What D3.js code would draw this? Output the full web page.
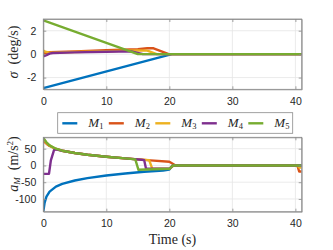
<!DOCTYPE html>
<html>
<head>
<meta charset="utf-8">
<script src="https://cdn.jsdelivr.net/npm/d3@7"></script>
<style>
  body { margin: 0; background: #fff; }
  svg { display: block; }
</style>
</head>
<body>
<div id="chart"></div>
<script>
// ---- data ----
var seriesNames = ["1", "2", "3", "4", "5"];
var colors = ["#0072BD", "#D95319", "#EDB120", "#7E2F8E", "#77AC30"];
var xTicks = [0, 10, 20, 30, 40];
var sigmaTicks = [-2, 0, 2];
var accTicks = [-100, -50, 0, 50];

// sigma (deg/s), top panel
var sigT1 = [0, 20.4, 41];
var sigV1 = [-2.9, 0, 0];
var sigT2 = [0, 0.5, 1, 5, 10, 15, 16.5, 17.5, 19.9, 41];
var sigV2 = [0.06, 0.12, 0.16, 0.24, 0.33, 0.42, 0.5, 0.5, 0, 0];
var sigT3 = [0, 0.3, 1, 5, 10, 15, 16.5, 18, 41];
var sigV3 = [0.3, 0.22, 0.12, 0.18, 0.25, 0.32, 0.3, 0, 0];
var sigT4 = [0, 0.5, 1, 1.5, 5, 10, 14, 15.8, 41];
var sigV4 = [-0.18, -0.08, 0.05, 0.1, 0.15, 0.2, 0.24, 0, 0];
var sigT5 = [0, 15, 41];
var sigV5 = [2.88, 0, 0];

// a_M (m/s^2), bottom panel
var accT1 = [0, 0.2, 0.5, 1, 2, 3, 5, 7, 10, 13, 16, 19, 20, 20.5, 41];
var accV1 = [-138, -112, -93, -78, -63, -55, -45, -38, -30, -24, -19, -15, -12, 0, 0];
var accT2 = [0, 0.5, 1, 2, 3, 5, 7, 10, 13, 15, 17, 20, 21, 40.3, 40.6, 41];
var accV2 = [73, 65, 58, 49, 44, 37, 32, 26, 21, 18, 15, 11, 0, 0, -18, -18];
var accT3 = [0, 0.5, 1, 2, 3, 5, 7, 10, 13, 15, 16.8, 17.3, 20, 20.7, 40.3, 40.6, 41];
var accV3 = [79, 67, 59, 49, 44, 37, 32, 26, 21, 18, 16, -10, -10, 0, 0, -6, -6];
var accT4 = [0, 0.9, 1.2, 1.7, 2, 3, 5, 7, 10, 13, 15.6, 16, 16.3, 20, 20.6, 41];
var accV4 = [-25, -25, 15, 46, 48, 44, 37, 32, 26, 21, 17, 16, -10, -10, 0, 0];
var accT5 = [0, 0.5, 1, 2, 3, 5, 7, 10, 13, 14.6, 15.1, 20, 20.6, 41];
var accV5 = [82, 69, 60, 50, 44, 37, 32, 26, 21, 18, -13, -10, 0, 0];

var sigT = [sigT1, sigT2, sigT3, sigT4, sigT5];
var sigV = [sigV1, sigV2, sigV3, sigV4, sigV5];
var accT = [accT1, accT2, accT3, accT4, accT5];
var accV = [accV1, accV2, accV3, accV4, accV5];

// ---- layout ----
var W = 333, H = 250;
var left = 43.3, right = 301.7;
var topPanel = {y0: 19, y1: 89.3};
var botPanel = {y0: 137.3, y1: 211.7};

var svg = d3.select("#chart").append("svg")
  .attr("width", W)
  .attr("height", H);

var x = d3.scaleLinear().domain([0, 41]).range([left, right]);
var ySig = d3.scaleLinear().domain([-3, 3]).range([topPanel.y1, topPanel.y0]);
var yAcc = d3.scaleLinear().domain([-138, 84]).range([botPanel.y1, botPanel.y0]);

var tickFont = "'Liberation Sans', Arial, sans-serif";
var serif = "'Liberation Serif', 'DejaVu Serif', serif";
var boxColor = "#8a8a8a";

function drawPanel(id, y, yTicks, ts, vs, p) {
  var g = svg.append("g");

  g.append("clipPath").attr("id", id)
    .append("rect")
    .attr("x", left).attr("y", p.y0)
    .attr("width", right - left).attr("height", p.y1 - p.y0);

  // grid
  g.append("g").selectAll("line").data(xTicks).enter().append("line")
    .attr("x1", function(d) { return x(d); })
    .attr("x2", function(d) { return x(d); })
    .attr("y1", p.y0).attr("y2", p.y1)
    .attr("stroke", "#e6e6e6").attr("stroke-width", 0.8);
  g.append("g").selectAll("line").data(yTicks).enter().append("line")
    .attr("x1", left).attr("x2", right)
    .attr("y1", function(d) { return y(d); })
    .attr("y2", function(d) { return y(d); })
    .attr("stroke", "#e6e6e6").attr("stroke-width", 0.8);

  // lines
  var line = d3.line()
    .x(function(d) { return x(d[0]); })
    .y(function(d) { return y(d[1]); });
  var lg = g.append("g").attr("clip-path", "url(#" + id + ")");
  for (var i = 0; i < ts.length; i++) {
    var pts = ts[i].map(function(t, k) { return [t, vs[i][k]]; });
    lg.append("path")
      .datum(pts)
      .attr("d", line)
      .attr("fill", "none")
      .attr("stroke", colors[i])
      .attr("stroke-width", 2.4)
      .attr("stroke-linejoin", "round");
  }

  // axes (box with inward ticks)
  g.append("g")
    .attr("transform", "translate(0," + p.y1 + ")")
    .call(d3.axisBottom(x).tickValues(xTicks).tickSize(-3).tickPadding(8).tickSizeOuter(0));
  g.append("g")
    .attr("transform", "translate(0," + p.y0 + ")")
    .call(d3.axisTop(x).tickValues(xTicks).tickSize(-3).tickFormat("").tickSizeOuter(0));
  g.append("g")
    .attr("transform", "translate(" + left + ",0)")
    .call(d3.axisLeft(y).tickValues(yTicks).tickSize(-3).tickPadding(7).tickSizeOuter(0)
      .tickFormat(function(d) { return String(d); }));
  g.append("g")
    .attr("transform", "translate(" + right + ",0)")
    .call(d3.axisRight(y).tickValues(yTicks).tickSize(-3).tickFormat("").tickSizeOuter(0));

  g.selectAll(".domain").attr("stroke", boxColor).attr("stroke-width", 0.8);
  g.selectAll(".tick line").attr("stroke", boxColor).attr("stroke-width", 0.8);
  g.selectAll(".tick text")
    .style("font-family", tickFont)
    .style("font-size", "10.5px")
    .attr("fill", "#262626");

  g.append("rect")
    .attr("x", left).attr("y", p.y0)
    .attr("width", right - left).attr("height", p.y1 - p.y0)
    .attr("fill", "none").attr("stroke", boxColor).attr("stroke-width", 0.8);
  return g;
}

drawPanel("clipTop", ySig, sigmaTicks, sigT, sigV, topPanel);
drawPanel("clipBot", yAcc, accTicks, accT, accV, botPanel);

// y labels
var yl1 = svg.append("text")
  .attr("transform", "translate(18,52) rotate(-90)")
  .attr("text-anchor", "middle")
  .style("font-family", serif)
  .style("font-size", "14px")
  .attr("fill", "#262626");
yl1.append("tspan").style("font-style", "italic").text("σ");
yl1.append("tspan").text("\u2002(deg/s)");

var yl2 = svg.append("text")
  .attr("transform", "translate(18,164) rotate(-90)")
  .attr("text-anchor", "middle")
  .style("font-family", serif)
  .style("font-size", "14px")
  .attr("fill", "#262626");
yl2.append("tspan").style("font-style", "italic").text("a");
yl2.append("tspan").style("font-style", "italic").style("font-size", "9px").attr("dy", 2).text("M");
yl2.append("tspan").attr("dy", -2).text("\u2002(m/s");
yl2.append("tspan").style("font-size", "9px").attr("dy", -5).text("2");
yl2.append("tspan").attr("dy", 5).text(")");

// x label
svg.append("text")
  .attr("x", (left + right) / 2)
  .attr("y", 244)
  .attr("text-anchor", "middle")
  .style("font-family", serif)
  .style("font-size", "14px")
  .attr("fill", "#262626")
  .text("Time (s)");

// legend
var legend = svg.append("g");
legend.append("rect")
  .attr("x", 57.7).attr("y", 112.7)
  .attr("width", 235).attr("height", 20.6)
  .attr("fill", "#fff").attr("stroke", boxColor).attr("stroke-width", 0.8);
var lx = d3.scaleLinear().domain([0, 4]).range([62.3, 248.3]);
var items = legend.selectAll("g.item").data(seriesNames).enter().append("g")
  .attr("transform", function(d, i) { return "translate(" + lx(i) + ",123.3)"; });
items.append("line")
  .attr("x1", 0).attr("x2", 15)
  .attr("stroke", function(d, i) { return colors[i]; })
  .attr("stroke-width", 2.4);
var lt = items.append("text")
  .attr("x", 26).attr("y", 4)
  .style("font-family", serif)
  .style("font-size", "13px")
  .attr("fill", "#262626");
lt.append("tspan").style("font-style", "italic").text("M");
lt.append("tspan").style("font-size", "8.5px").attr("dy", 2).text(function(d) { return d; });
</script>
</body>
</html>
